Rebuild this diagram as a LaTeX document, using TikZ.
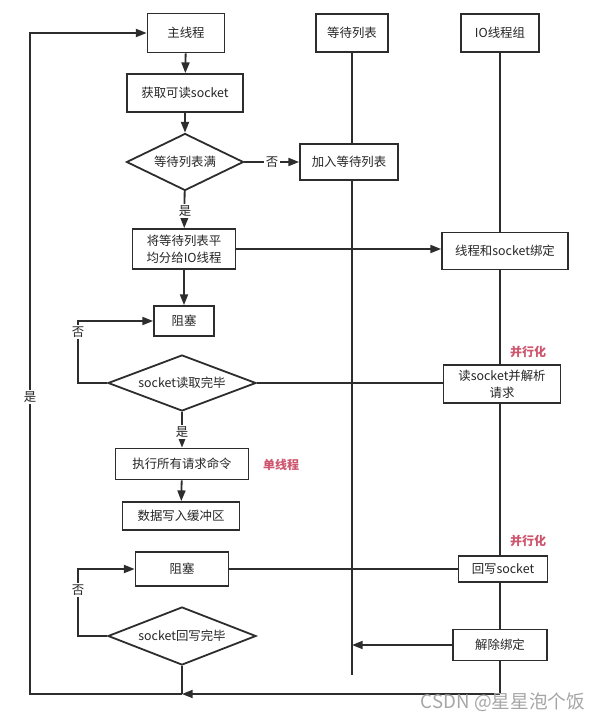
\documentclass[tikz,border=0pt]{standalone}
\usepackage{fontspec}
\setmainfont{Noto Sans CJK SC}
\usetikzlibrary{arrows.meta,positioning,shapes.geometric}
\usepackage{xcolor}
\definecolor{linegray}{RGB}{45,45,45}
\definecolor{notered}{RGB}{205,85,110}
\newdimen\pxu
\pxu=0.75pt

\begin{document}
\begin{tikzpicture}[
  x=0.75pt, y=-0.75pt,
  font=\fontsize{9.3pt}{11pt}\selectfont,
  line width=1.35pt, draw=linegray,
  box/.style={draw=linegray, fill=white, align=center, inner sep=2pt, text=black!85},
  decide/.style={diamond, draw=linegray, fill=white, inner sep=0pt, text=black!85},
  arrow/.style={-{Triangle[length=8pt,width=6pt]}, draw=linegray},
  linelabel/.style={fill=white, inner sep=1pt, text=black!85},
  hint/.style={text=notered, font=\fontsize{9pt}{11pt}\selectfont\bfseries}
]
\useasboundingbox (0,0) rectangle (608,721);

% heads of the three lanes
\node[box, minimum width=77\pxu, minimum height=39\pxu] (main) at (186,33) {主线程};
\node[box, minimum width=72\pxu, minimum height=38\pxu] (wait) at (352,33) {等待列表};
\node[box, minimum width=78\pxu, minimum height=38\pxu] (io) at (500,33) {IO线程组};

% main thread
\node[box, minimum width=116\pxu, minimum height=38\pxu] (fetch) at (185,93) {获取可读socket};
\node[decide, aspect=2.1, minimum width=117\pxu, minimum height=57\pxu] (full) at (185,162) {等待列表满};
\node[box, minimum width=98\pxu, minimum height=36\pxu] (join) at (349,162) {加入等待列表};
\node[box, minimum width=103\pxu, minimum height=40\pxu, font=\fontsize{9.3pt}{13pt}\selectfont] (split) at (184,249) {将等待列表平\\均分给IO线程};
\node[box, minimum width=60\pxu, minimum height=30\pxu] (block1) at (184,321) {阻塞};
\node[decide, aspect=2.65, minimum width=148\pxu, minimum height=56\pxu] (readok) at (182,383) {socket读取完毕};
\node[box, minimum width=133\pxu, minimum height=31\pxu] (exec) at (182,464) {执行所有请求命令};
\node[box, minimum width=117\pxu, minimum height=28\pxu] (buf) at (181,516) {数据写入缓冲区};
\node[box, minimum width=93\pxu, minimum height=34\pxu] (block2) at (182,569) {阻塞};
\node[decide, aspect=2.55, minimum width=148\pxu, minimum height=58\pxu] (wok) at (182,636) {socket回写完毕};

% io threads
\node[box, minimum width=126\pxu, minimum height=37\pxu] (bind) at (505,251) {线程和socket绑定};
\node[box, minimum width=117\pxu, minimum height=38\pxu, font=\fontsize{9.3pt}{13pt}\selectfont] (parse) at (502,384) {读socket并解析\\请求};
\node[box, minimum width=89\pxu, minimum height=26\pxu] (write) at (503,569) {回写socket};
\node[box, minimum width=94\pxu, minimum height=31\pxu] (unbind) at (500,645) {解除绑定};

\coordinate (waitend) at (352,675);
\coordinate (ioend) at (500,694);
\coordinate (backbl) at (30,694);
\coordinate (loop1) at (78,321);
\coordinate (loop2) at (78,569);

% lane lines
\draw (wait.south) -- (wait.south |- join.north);
\draw (wait.south |- join.south) -- (waitend);
\draw (io.south) -- (io.south |- bind.north);
\draw (io.south |- bind.south) -- (io.south |- parse.north);
\draw (io.south |- parse.south) -- (io.south |- write.north);
\draw (io.south |- write.south) -- (io.south |- unbind.north);
\draw (unbind.south) -- (ioend);

% flow
\draw[arrow] (main) -- (fetch);
\draw[arrow] (fetch) -- (full);
\draw[arrow] (full) -- (join);
\draw[arrow] (full) -- (split);
\draw[arrow] (split.east) -- (split.east -| bind.west);
\draw[arrow] (split) -- (block1);
\draw[arrow] (readok.west) -| (loop1) -- (block1.west);
\draw (readok.east) -- (readok.east -| parse.west);
\draw[arrow] (readok) -- (exec);
\draw[arrow] (exec) -- (buf);
\draw (block2) -- (write);
\draw[arrow] (wok.west) -| (loop2) -- (block2.west);
\draw[arrow] (unbind.west) -- (unbind.west -| waitend);
\draw (wok.south) -- (wok.south |- ioend);
\draw[arrow] (ioend) -- (wok.south |- ioend);
\draw[arrow] (wok.south |- ioend) -- (backbl) |- (main.west);

% labels on the lines
\node[linelabel] (no1) at (272,162) {否};
\node[linelabel] (yes1) at (185,211) {是};
\node[linelabel] (no2) at (78,332) {否};
\node[linelabel] (yes2) at (182,432) {是};
\node[linelabel] (no3) at (78,590) {否};
\node[linelabel] (yes3) at (30,397) {是};

\node[hint] (par1) at (528,352) {并行化};
\node[hint] (single) at (281,465) {单线程};
\node[hint] (par2) at (528,541) {并行化};

\node[text=black!35, font=\fontsize{14pt}{16pt}\selectfont] (csdn) at (503,702) {CSDN @星星泡个饭};

\end{tikzpicture}
\end{document}
